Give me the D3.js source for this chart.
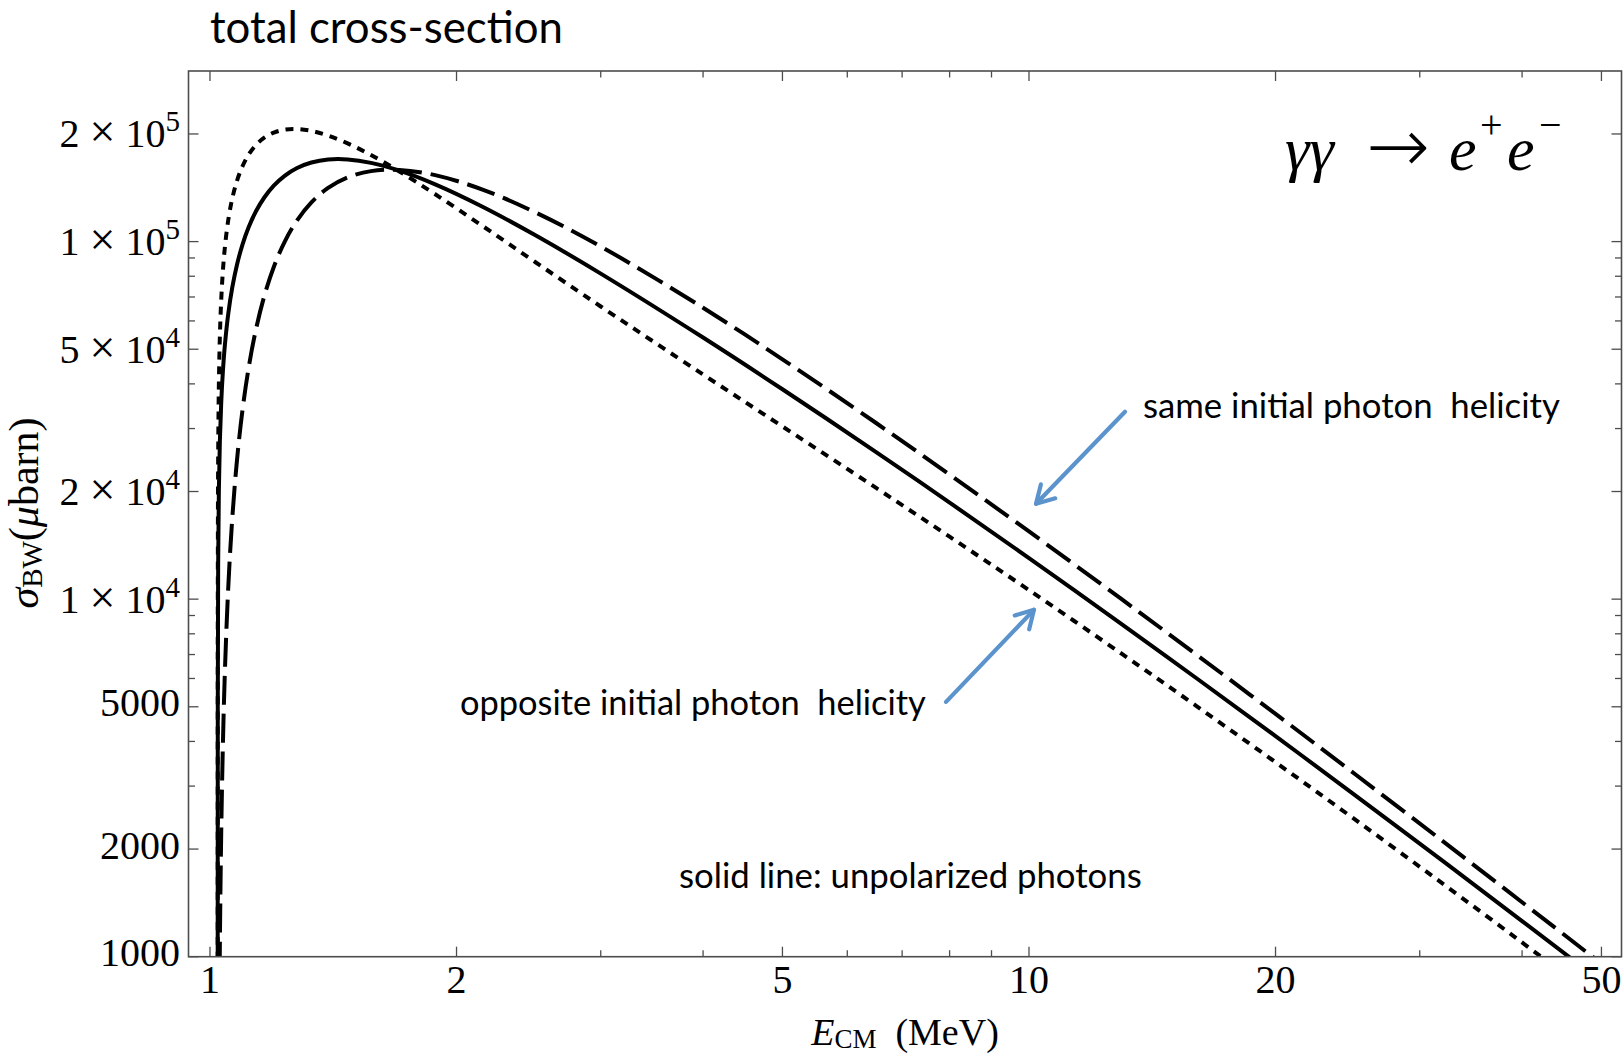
<!DOCTYPE html>
<html>
<head>
<meta charset="utf-8">
<script src="https://cdn.jsdelivr.net/npm/d3@7"></script>
<style>
  html, body { margin: 0; padding: 0; background: #ffffff; }
  svg { display: block; }
  text { white-space: pre; }
</style>
</head>
<body>
<svg id="chart" width="1624" height="1055"></svg>
<script>
// Centre-of-mass energy (MeV) at which the cross-sections are sampled
const energyMeV = [
  1.02200, 1.02220, 1.02328, 1.02529, 1.02824, 1.03217, 1.03710, 1.04308,
  1.05277, 1.06458, 1.07872, 1.09545, 1.11509, 1.13807, 1.16498, 1.19648,
  1.23357, 1.27750, 1.33008, 1.39387, 1.47268, 1.57249, 1.70333, 1.88357,
  2.15170, 2.5, 3, 4, 5, 6.5, 8, 10, 13, 16, 20, 25, 32, 40, 48, 56
];

// Breit-Wheeler cross-section, unpolarized photons (μbarn)
const sigmaUnpolarized = [
  250, 4990, 12510, 20090, 27770, 35580, 43560, 51710,
  62860, 74320, 86050, 97940, 109840, 121560, 132830, 143350,
  152740, 160580, 166380, 169610, 169700, 166020, 157890, 144570,
  125170, 103970, 81380, 53910, 38640, 25820, 18620, 13030,
  8491, 6018, 4138, 2832, 1853, 1258, 915, 698
];

// opposite initial photon helicity (μbarn)
const sigmaOppositeHelicity = [
  499, 9977, 24910, 39750, 54440, 68930, 83150, 97030,
  114900, 131870, 147720, 162240, 175170, 186270, 195230, 201780,
  205620, 206440, 203980, 197970, 188230, 174620, 157080, 135690,
  110580, 87420, 65840, 42500, 30410, 20500, 14950, 10600,
  7015, 5031, 3499, 2421, 1601, 1096, 802, 615
];

// same initial photon helicity (μbarn)
const sigmaSameHelicity = [
  0.0008, 6.6, 104, 423, 1093, 2235, 3964, 6378,
  10810, 16780, 24380, 33640, 44510, 56850, 70430, 84920,
  99870, 114710, 128780, 141250, 151160, 157420, 158700, 153460,
  139760, 120520, 96910, 65310, 46860, 31140, 22300, 15460,
  9966, 7005, 4776, 3243, 2105, 1420, 1028, 781
];

// axis ticks
const xTickValues = [1, 2, 5, 10, 20, 50];
const xTickLabels = ["1", "2", "5", "10", "20", "50"];
const xMinorTickValues = [3, 4, 6, 7, 8, 9, 30, 40];
const yTickValues = [1000, 2000, 5000, 1e4, 2e4, 5e4, 1e5, 2e5];
const yTickLabels = ["1000", "2000", "5000", "1×10^4", "2×10^4", "5×10^4", "1×10^5", "2×10^5"];
const yMinorTickValues = [3000, 4000, 6000, 7000, 8000, 9000,
                          30000, 40000, 60000, 70000, 80000, 90000];

// annotation arrows in data coordinates: [E, sigma] tail -> tip
const sameArrow = { from: [13.10, 33430], to: [10.20, 18480] };
const oppositeArrow = { from: [7.92, 5161], to: [10.14, 9334] };

const svg = d3.select("#chart");
const frame = { left: 188.5, right: 1621.5, top: 71, bottom: 956.7 };
const serif = "'Liberation Serif', 'Times New Roman', Times, serif";
const sans = "Lato, 'Open Sans', 'Noto Sans', sans-serif";
const frameColor = "#4d4d4d";

const x = d3.scaleLog().domain([0.9414, 52.9]).range([frame.left, frame.right]);
const y = d3.scaleLog().domain([1000, 3e5]).range([frame.bottom, frame.top]);

// clip region for the curves
svg.append("defs").append("clipPath").attr("id", "plot-clip")
  .append("rect")
  .attr("x", frame.left).attr("y", frame.top)
  .attr("width", frame.right - frame.left)
  .attr("height", frame.bottom - frame.top);

// curves
const series = [
  { values: sigmaOppositeHelicity, dash: "8 7" },
  { values: sigmaSameHelicity, dash: "29 9" },
  { values: sigmaUnpolarized, dash: null }
];
const line = d3.line()
  .x(d => x(d[0]))
  .y(d => y(d[1]))
  .curve(d3.curveCatmullRom.alpha(0.5));

const curves = svg.append("g").attr("clip-path", "url(#plot-clip)");
series.forEach(s => {
  const pts = energyMeV.map((e, i) => [e, s.values[i]]);
  curves.append("path")
    .attr("d", line(pts))
    .attr("fill", "none")
    .attr("stroke", "#000")
    .attr("stroke-width", 4)
    .attr("stroke-dasharray", s.dash);
});

// frame
svg.append("rect")
  .attr("x", frame.left).attr("y", frame.top)
  .attr("width", frame.right - frame.left)
  .attr("height", frame.bottom - frame.top)
  .attr("fill", "none")
  .attr("stroke", frameColor)
  .attr("stroke-width", 1.6);

// ticks on all four sides, pointing inward
const majorLen = 10, minorLen = 6.5;
const ticks = svg.append("g").attr("stroke", frameColor).attr("stroke-width", 1.3);
function xTick(v, len) {
  ticks.append("line").attr("x1", x(v)).attr("x2", x(v))
    .attr("y1", frame.bottom).attr("y2", frame.bottom - len);
  ticks.append("line").attr("x1", x(v)).attr("x2", x(v))
    .attr("y1", frame.top).attr("y2", frame.top + len);
}
function yTick(v, len) {
  ticks.append("line").attr("y1", y(v)).attr("y2", y(v))
    .attr("x1", frame.left).attr("x2", frame.left + len);
  ticks.append("line").attr("y1", y(v)).attr("y2", y(v))
    .attr("x1", frame.right).attr("x2", frame.right - len);
}
xTickValues.forEach(v => xTick(v, majorLen));
xMinorTickValues.forEach(v => xTick(v, minorLen));
yTickValues.forEach(v => yTick(v, majorLen));
yMinorTickValues.forEach(v => yTick(v, minorLen));

// x tick labels
svg.append("g").selectAll("text").data(xTickValues).join("text")
  .attr("x", d => x(d))
  .attr("y", 992.5)
  .attr("text-anchor", "middle")
  .attr("font-family", serif)
  .attr("font-size", 40)
  .text((d, i) => xTickLabels[i]);

// y tick labels (mantissa × 10^exponent where needed)
const yLabels = svg.append("g")
  .attr("font-family", serif).attr("font-size", 40).attr("text-anchor", "end");
yTickValues.forEach((v, i) => {
  const lab = yTickLabels[i];
  const t = yLabels.append("text").attr("x", 180);
  if (lab.includes("^")) {
    const [mant, exp] = lab.split("^");
    const [m, base] = mant.split("×");
    t.attr("y", y(v) + 13.5);
    t.append("tspan").text(m + " ");
    t.append("tspan").attr("font-size", 46).text("×");
    t.append("tspan").text(" " + base);
    t.append("tspan").attr("font-size", 29).attr("dy", -16).text(exp);
  } else {
    t.attr("y", y(v) + 9.5).text(lab);
  }
});

// axis titles
const xTitle = svg.append("text")
  .attr("x", 905).attr("y", 1045)
  .attr("text-anchor", "middle")
  .attr("font-family", serif).attr("font-size", 38);
xTitle.append("tspan").attr("font-style", "italic").text("E");
xTitle.append("tspan").attr("font-size", 27).attr("dy", 3).text("CM");
xTitle.append("tspan").attr("dy", -3).text("  (MeV)");

const yTitle = svg.append("text")
  .attr("transform", "translate(38,513) rotate(-90)")
  .attr("text-anchor", "middle")
  .attr("font-family", serif).attr("font-size", 42);
yTitle.append("tspan").attr("font-style", "italic").text("σ");
yTitle.append("tspan").attr("font-size", 29).attr("dy", 4).text("BW");
yTitle.append("tspan").attr("dy", -4).text("(");
yTitle.append("tspan").attr("font-style", "italic").text("μ");
yTitle.append("tspan").text("barn)");

// process label γγ → e⁺e⁻
const proc = svg.append("g").attr("font-family", serif);
proc.append("text").attr("x", 1285).attr("y", 170)
  .attr("font-size", 62).attr("font-style", "italic").text("γγ");
proc.append("text").attr("x", 1398).attr("y", 172)
  .attr("text-anchor", "middle")
  .attr("font-family", "'DejaVu Sans', sans-serif").attr("font-weight", 300)
  .attr("font-size", 76).text("→");
proc.append("text").attr("x", 1449).attr("y", 170)
  .attr("font-size", 62).attr("font-style", "italic").text("e");
proc.append("text").attr("x", 1480).attr("y", 138)
  .attr("font-size", 40).text("+");
proc.append("text").attr("x", 1507).attr("y", 170)
  .attr("font-size", 62).attr("font-style", "italic").text("e");
proc.append("text").attr("x", 1539).attr("y", 138)
  .attr("font-size", 40).text("−");

// sans-serif captions, each sized to its measured width
function caption(str, x0, baseline, width) {
  const t = svg.append("text")
    .attr("x", x0).attr("y", baseline)
    .attr("font-family", sans).attr("font-size", 38)
    .attr("fill", "#000")
    .text(str);
  const w = t.node().getComputedTextLength();
  if (w > 0) t.attr("font-size", 38 * width / w);
  return t;
}
caption("total cross-section", 210, 43, 353);
caption("same initial photon  helicity", 1143, 418, 417);
caption("opposite initial photon  helicity", 460, 715, 466);
caption("solid line: unpolarized photons", 679, 888, 463);

// blue annotation arrows
const arrowColor = "#5b93cd";
function arrow(a) {
  const x0 = x(a.from[0]), y0 = y(a.from[1]);
  const x1 = x(a.to[0]), y1 = y(a.to[1]);
  const ang = Math.atan2(y1 - y0, x1 - x0);
  const head = 20, spread = Math.PI / 6;
  const g = svg.append("g")
    .attr("stroke", arrowColor).attr("stroke-width", 4.2)
    .attr("fill", "none").attr("stroke-linecap", "round").attr("stroke-linejoin", "round");
  g.append("line").attr("x1", x0).attr("y1", y0).attr("x2", x1).attr("y2", y1);
  g.append("path").attr("d",
    "M" + (x1 - head * Math.cos(ang - spread)) + "," + (y1 - head * Math.sin(ang - spread)) +
    "L" + x1 + "," + y1 +
    "L" + (x1 - head * Math.cos(ang + spread)) + "," + (y1 - head * Math.sin(ang + spread)));
}
arrow(sameArrow);
arrow(oppositeArrow);
</script>
</body>
</html>
